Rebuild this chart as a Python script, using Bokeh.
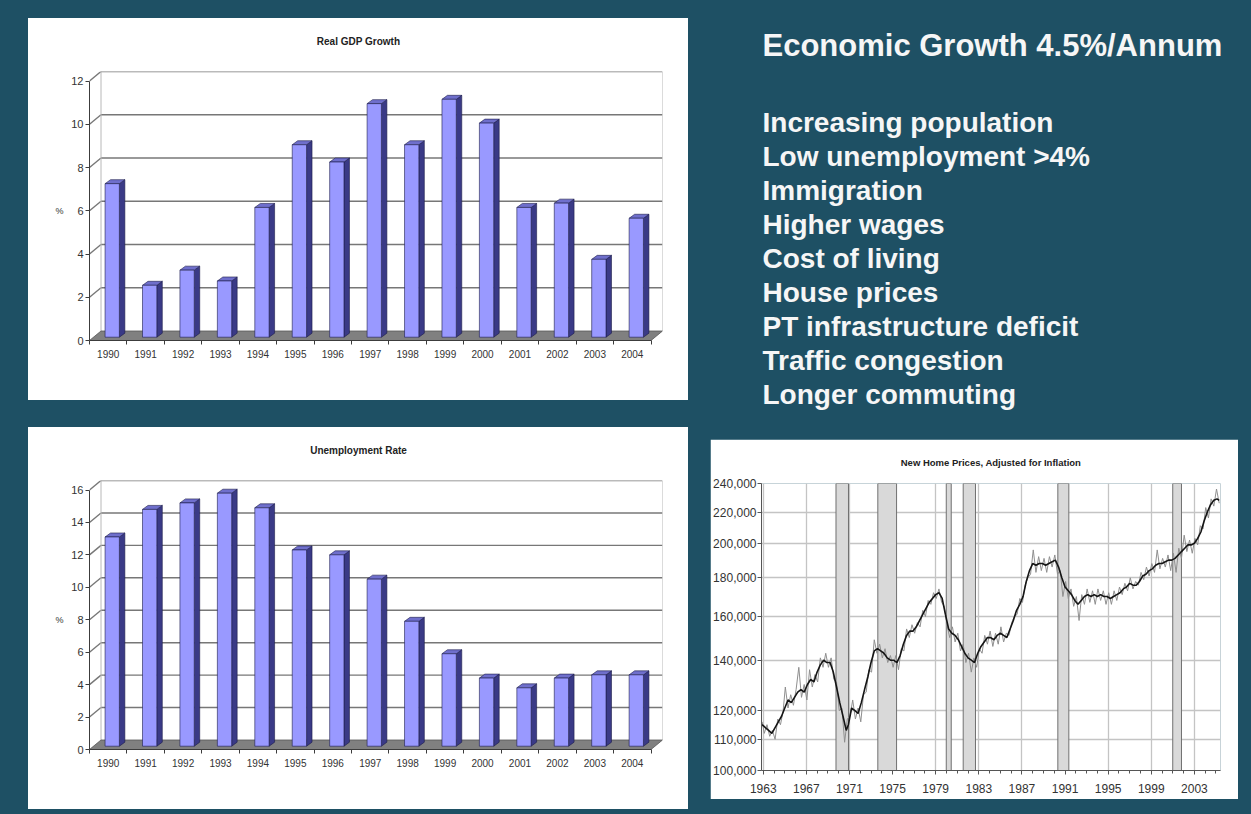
from bokeh.plotting import figure
from bokeh.models import Range1d, FixedTicker, NumeralTickFormatter, LinearAxis, Label
from bokeh.layouts import row, column
from bokeh.embed import file_html
from bokeh.resources import INLINE
from bokeh.core.properties import value

BG = "#1e5064"
FONT = "Liberation Sans"

# ---------------- data ----------------
years = ["1990", "1991", "1992", "1993", "1994", "1995", "1996", "1997",
         "1998", "1999", "2000", "2001", "2002", "2003", "2004"]
gdp_growth = [7.1, 2.4, 3.1, 2.6, 6.0, 8.9, 8.1, 10.8, 8.9, 11.0, 9.9, 6.0, 6.2, 3.6, 5.5]
unemployment = [12.9, 14.6, 15.0, 15.6, 14.7, 12.1, 11.8, 10.3, 7.7, 5.7, 4.2, 3.6, 4.2, 4.4, 4.4]
gdp_ticks = [0, 2, 4, 6, 8, 10, 12]
unemp_ticks = [0, 2, 4, 6, 8, 10, 12, 14, 16]

headline = "Economic Growth 4.5%/Annum"
points = ["Increasing population", "Low unemployment  >4%", "Immigration",
          "Higher wages", "Cost of living", "House prices",
          "PT infrastructure deficit", "Traffic congestion", "Longer commuting"]

# New home prices (inflation adjusted), smoothed series
price_years = [
    1962.9, 1963.2, 1963.5, 1963.8, 1964.1, 1964.4, 1964.7, 1965.0, 1965.3, 1965.6, 1965.9,
    1966.2, 1966.5, 1966.8, 1967.1, 1967.4, 1967.7, 1968.0, 1968.3, 1968.6, 1968.9,
    1969.2, 1969.5, 1969.8, 1970.1, 1970.4, 1970.7, 1970.9, 1971.2, 1971.5, 1971.8,
    1972.1, 1972.4, 1972.7, 1973.0, 1973.3, 1973.6, 1973.9, 1974.2, 1974.5, 1974.8,
    1975.1, 1975.4, 1975.7, 1976.0, 1976.3, 1976.6, 1976.9, 1977.2, 1977.5, 1977.8,
    1978.1, 1978.4, 1978.7, 1979.0, 1979.3, 1979.6, 1979.9, 1980.2, 1980.5, 1980.8,
    1981.1, 1981.4, 1981.7, 1982.0, 1982.3, 1982.6, 1982.9, 1983.2, 1983.5, 1983.8,
    1984.1, 1984.4, 1984.7, 1985.0, 1985.3, 1985.6, 1985.9, 1986.2, 1986.5, 1986.8,
    1987.1, 1987.4, 1987.7, 1988.0, 1988.3, 1988.6, 1988.9, 1989.2, 1989.5, 1989.8,
    1990.1, 1990.4, 1990.7, 1991.0, 1991.3, 1991.6, 1991.9, 1992.2, 1992.5, 1992.8,
    1993.1, 1993.4, 1993.7, 1994.0, 1994.3, 1994.6, 1994.9, 1995.2, 1995.5, 1995.8,
    1996.1, 1996.4, 1996.7, 1997.0, 1997.3, 1997.6, 1997.9, 1998.2, 1998.5, 1998.8,
    1999.1, 1999.4, 1999.7, 2000.0, 2000.3, 2000.6, 2000.9, 2001.2, 2001.5, 2001.8,
    2002.1, 2002.4, 2002.7, 2003.0, 2003.3, 2003.6, 2003.9, 2004.2, 2004.5, 2004.8,
    2005.1, 2005.3]
price_smooth = [
    115000, 114000, 113000, 112000, 114000, 116000, 118000, 121000, 124000, 123000, 125000,
    127000, 128000, 127000, 130000, 132000, 131000, 135000, 138000, 140000, 139000,
    139000, 135000, 129000, 123000, 118000, 113000, 115000, 121000, 120000, 119000,
    123000, 128000, 133000, 139000, 144000, 145000, 144000, 143000, 141000, 140000,
    140000, 139000, 142000, 147000, 151000, 153000, 153000, 155000, 158000, 161000,
    164000, 167000, 169000, 171000, 172000, 169000, 161000, 154000, 152000, 151000,
    149000, 146000, 143000, 141000, 140000, 139000, 143000, 146000, 148000, 150000,
    150000, 149000, 151000, 152000, 151000, 150000, 154000, 158000, 163000, 166000,
    170000, 178000, 184000, 188000, 187000, 188000, 188000, 187000, 188000, 189000,
    190000, 186000, 180000, 175000, 173000, 171000, 168000, 166000, 168000, 170000,
    171000, 170000, 171000, 170000, 171000, 170000, 170000, 169000, 170000, 171000,
    172000, 174000, 175000, 177000, 176000, 176000, 178000, 181000, 182000, 184000,
    185000, 187000, 188000, 188000, 189000, 190000, 190000, 191000, 193000, 195000,
    197000, 199000, 199000, 200000, 203000, 207000, 214000, 220000, 225000, 228000,
    229000, 228000]

# New home prices, raw (noisy) series
raw_years = [
    1962.9, 1963.1, 1963.35, 1963.6, 1963.85, 1964.1, 1964.35, 1964.6, 1964.85,
    1965.05, 1965.3, 1965.55, 1965.8, 1966.05, 1966.3, 1966.55, 1966.8,
    1967.05, 1967.3, 1967.55, 1967.8, 1968.05, 1968.3, 1968.55, 1968.8,
    1969.05, 1969.3, 1969.55, 1969.8, 1970.05, 1970.3, 1970.55, 1970.8,
    1971.05, 1971.3, 1971.55, 1971.8, 1972.05, 1972.3, 1972.55, 1972.8,
    1973.05, 1973.3, 1973.55, 1973.8, 1974.05, 1974.3, 1974.55, 1974.8,
    1975.05, 1975.3, 1975.55, 1975.8, 1976.05, 1976.3, 1976.55, 1976.8,
    1977.05, 1977.3, 1977.55, 1977.8, 1978.05, 1978.3, 1978.55, 1978.8,
    1979.05, 1979.3, 1979.55, 1979.8, 1980.05, 1980.3, 1980.55, 1980.8,
    1981.05, 1981.3, 1981.55, 1981.8, 1982.05, 1982.3, 1982.55, 1982.8,
    1983.05, 1983.3, 1983.55, 1983.8, 1984.05, 1984.3, 1984.55, 1984.8,
    1985.05, 1985.3, 1985.55, 1985.8, 1986.05, 1986.3, 1986.55, 1986.8,
    1987.05, 1987.3, 1987.55, 1987.8, 1988.05, 1988.3, 1988.55, 1988.8,
    1989.05, 1989.3, 1989.55, 1989.8, 1990.05, 1990.3, 1990.55, 1990.8,
    1991.05, 1991.3, 1991.55, 1991.8, 1992.05, 1992.3, 1992.55, 1992.8,
    1993.05, 1993.3, 1993.55, 1993.8, 1994.05, 1994.3, 1994.55, 1994.8,
    1995.05, 1995.3, 1995.55, 1995.8, 1996.05, 1996.3, 1996.55, 1996.8,
    1997.05, 1997.3, 1997.55, 1997.8, 1998.05, 1998.3, 1998.55, 1998.8,
    1999.05, 1999.3, 1999.55, 1999.8, 2000.05, 2000.3, 2000.55, 2000.8,
    2001.05, 2001.3, 2001.55, 2001.8, 2002.05, 2002.3, 2002.55, 2002.8,
    2003.05, 2003.3, 2003.55, 2003.8, 2004.05, 2004.3, 2004.55, 2004.8,
    2005.05, 2005.3]
price_raw = [
    116000, 112000, 115000, 111000, 113000, 110000, 117000, 115000, 120000,
    129000, 121000, 126000, 122000, 128000, 137000, 125000, 130000,
    124000, 136000, 129000, 134000, 131000, 141000, 137000, 143000,
    137000, 141000, 132000, 131000, 120000, 121000, 109000, 117000,
    118000, 124000, 117000, 121000, 116000, 126000, 127000, 136000,
    135000, 149000, 143000, 147000, 141000, 145000, 139000, 142000,
    137000, 142000, 136000, 145000, 144000, 154000, 150000, 156000,
    152000, 157000, 155000, 163000, 160000, 168000, 166000, 172000,
    169000, 174000, 167000, 165000, 156000, 150000, 155000, 148000,
    152000, 144000, 147000, 139000, 143000, 135000, 141000, 137000,
    145000, 143000, 151000, 147000, 153000, 146000, 152000, 147000,
    155000, 148000, 152000, 151000, 157000, 160000, 161000, 169000,
    167000, 176000, 180000, 182000, 196000, 183000, 192000, 184000,
    191000, 183000, 192000, 186000, 193000, 182000, 184000, 170000,
    178000, 169000, 174000, 165000, 170000, 158000, 171000, 166000,
    174000, 167000, 173000, 166000, 174000, 168000, 173000, 166000,
    172000, 166000, 173000, 168000, 175000, 171000, 177000, 173000,
    180000, 174000, 178000, 176000, 183000, 179000, 186000, 181000,
    188000, 183000, 196000, 185000, 191000, 186000, 193000, 184000,
    194000, 183000, 197000, 191000, 205000, 195000, 202000, 194000,
    203000, 199000, 211000, 209000, 223000, 216000, 229000, 224000,
    236000, 226000]

recession_start = [1969.75, 1973.63, 1979.98, 1981.55, 1990.33, 2000.99]
recession_end = [1970.91, 1975.37, 1980.44, 1982.69, 1991.35, 2001.80]
price_ticks = [100000, 110000, 120000, 140000, 160000, 180000, 200000, 220000, 240000]
year_ticks = [1963, 1967, 1971, 1975, 1979, 1983, 1987, 1991, 1995, 1999, 2003]
year_minor = list(range(1963, 2006))


def no_outline(fig):
    fig.outline_line_color = None
    fig.outline_line_alpha = 0
    fig.outline_line_width = 0


# ---------------- 3-D style column chart (title strip + chart) ----------------
def bar3d(title, cats, vals, yticks, margin):
    W = 660
    TSH = 36                      # title strip height
    H = 382 - TSH
    BL, BR, BT, BB = 61, 26, 17, 60
    fw = W - BL - BR
    fh = H - BT - BB
    DXP, DYP = 11.5, 9.5          # wall depth (px)
    n = len(cats)
    ymax = yticks[-1]
    cpx = (fw - DXP) / n
    upx = (fh - DYP) / ymax
    ddx, ddy = DXP / cpx, DYP / upx

    # title strip
    ts = figure(width=W, height=TSH, x_range=Range1d(0, W), y_range=Range1d(TSH, 0),
                x_axis_type=None, y_axis_type=None, output_backend="svg", title=None,
                toolbar_location=None, tools="", min_border=0,
                background_fill_color="white", border_fill_color="white",
                frame_align=False)
    no_outline(ts)
    ts.grid.visible = False
    ts.add_layout(Label(x=W / 2, y=23, text=title, text_align="center",
                        text_baseline="middle", text_font=FONT, text_font_size="10px",
                        text_font_style="bold", text_color="#222222"))

    p = figure(width=W, height=H, x_range=Range1d(0, n + ddx),
               y_range=Range1d(0, ymax + ddy), output_backend="svg",
               toolbar_location=None, tools="",
               min_border_left=BL, min_border_right=BR,
               min_border_top=BT, min_border_bottom=BB,
               background_fill_color="white", border_fill_color="white",
               frame_align=False)
    no_outline(p)
    p.grid.visible = False

    levels = yticks[1:]
    # left wall diagonals and back wall gridlines
    p.segment(x0=[0] * len(levels), y0=levels, x1=[ddx] * len(levels),
              y1=[t + ddy for t in levels], line_color="#777777", line_width=1.4)
    p.segment(x0=[ddx] * len(levels), y0=[t + ddy for t in levels],
              x1=[n + ddx] * len(levels), y1=[t + ddy for t in levels],
              line_color="#777777", line_width=1.4)
    # wall edges
    p.segment(x0=[ddx, n + ddx], y0=[ddy, ddy], x1=[ddx, n + ddx],
              y1=[ymax + ddy, ymax + ddy], line_color="#b8b8b8", line_width=1)
    # floor
    p.patch([0, n, n + ddx, ddx], [0, 0, ddy, ddy], fill_color="#808080",
            line_color="#555555", line_width=0.8)

    # bars
    BDX, BDY, BW, SDX, SDY = 4.0, 3.3, 14.3, 5.5, 4.0
    bdx, bdy, bw, sdx, sdy = BDX / cpx, BDY / upx, BW / cpx, SDX / cpx, SDY / upx
    lefts = [i + 0.5 - bw / 2 + bdx for i in range(n)]
    rights = [l + bw for l in lefts]
    tops = [v + bdy for v in vals]
    side_xs = [[r, r + sdx, r + sdx, r] for r in rights]
    side_ys = [[bdy, bdy + sdy, t + sdy, t] for t in tops]
    top_xs = [[l, r, r + sdx, l + sdx] for l, r in zip(lefts, rights)]
    top_ys = [[t, t, t + sdy, t + sdy] for t in tops]
    edge = "#1d1d4a"
    p.patches(side_xs, side_ys, fill_color="#3a3a86", line_color=edge, line_width=0.6)
    p.patches(top_xs, top_ys, fill_color="#6f6fcc", line_color=edge, line_width=0.6)
    p.quad(left=lefts, right=rights, bottom=bdy, top=tops, fill_color="#9999ff",
           line_color=edge, line_width=0.6)

    # axes
    p.xaxis.ticker = FixedTicker(ticks=[i + 0.5 for i in range(n)],
                                 minor_ticks=list(range(n + 1)))
    p.xaxis.major_label_overrides = {i + 0.5: c for i, c in enumerate(cats)}
    p.xaxis.bounds = (0, n)
    p.xaxis.major_tick_out = 0
    p.xaxis.major_tick_in = 0
    p.xaxis.minor_tick_out = 4
    p.xaxis.minor_tick_in = 0
    p.xaxis.major_label_standoff = 5
    p.yaxis.ticker = FixedTicker(ticks=yticks)
    p.yaxis.bounds = (0, ymax)
    p.yaxis.major_tick_out = 4
    p.yaxis.major_tick_in = 0
    p.yaxis.minor_tick_line_color = None
    p.yaxis.major_label_standoff = 2
    for ax in (p.xaxis, p.yaxis):
        ax.axis_line_color = "#3c3c3c"
        ax.major_tick_line_color = "#3c3c3c"
        ax.major_label_text_font = FONT
        ax.major_label_text_color = "#333333"
    p.xaxis.minor_tick_line_color = "#3c3c3c"
    p.xaxis.major_label_text_font_size = "10px"
    p.yaxis.major_label_text_font_size = "11px"

    # "%" unit marker beside the middle tick
    mid = yticks[len(yticks) // 2]
    unit_ax = LinearAxis(ticker=FixedTicker(ticks=[mid]),
                         major_label_overrides={mid: "%"},
                         axis_line_color=None, major_tick_line_color=None,
                         minor_tick_line_color=None, major_tick_out=0,
                         major_label_standoff=5, major_label_text_font=FONT,
                         major_label_text_font_size="9px",
                         major_label_text_color="#333333")
    p.add_layout(unit_ax, "left")
    return column(ts, p, margin=margin, styles={"background-color": "white"})


gdp = bar3d("Real GDP Growth", years, gdp_growth, gdp_ticks, (18, 0, 0, 28))
unemp = bar3d("Unemployment Rate", years, unemployment, unemp_ticks, (27, 0, 5, 28))

# ---------------- text panel ----------------
TW, TH = 563, 430
tp = figure(width=TW, height=TH, x_range=Range1d(0, TW), y_range=Range1d(TH, 0),
            x_axis_type=None, y_axis_type=None, output_backend="svg", title=None,
            toolbar_location=None, tools="", min_border=0, background_fill_color=BG,
            border_fill_color=BG, frame_align=False)
no_outline(tp)
tp.grid.visible = False
tp.text(x=[74], y=[45], text=[headline], text_font=value(FONT), text_font_size="31px",
        text_font_style="bold", text_color="#f6f6f6", text_baseline="alphabetic")
tp.text(x=[74] * len(points), y=[122 + 34 * k for k in range(len(points))], text=points,
        text_font=value(FONT), text_font_size="28px", text_font_style="bold",
        text_color="#f6f6f6", text_baseline="alphabetic")

# ---------------- new home prices ----------------
hp = figure(width=528, height=360, x_range=Range1d(1962.84, 2005.42),
            y_range=Range1d(100000, 240000), y_axis_type="log", output_backend="svg",
            toolbar_location=None, tools="", min_border_left=51, min_border_right=18,
            min_border_top=43, min_border_bottom=29, background_fill_color="white",
            border_fill_color="white", margin=(9, 0, 0, 22), frame_align=False,
            styles={"outline": "1px solid #8a8a8a", "outline-offset": "-3px"})
no_outline(hp)
hp.quad(left=recession_start, right=recession_end, bottom=100000, top=240000,
        fill_color="#d9d9d9", line_color="#707070", line_width=1)
hp.line(raw_years, price_raw, line_color="#8f8f8f", line_width=1)
hp.line(price_years, price_smooth, line_color="#151515", line_width=1.6)

hp.xaxis.ticker = FixedTicker(ticks=year_ticks, minor_ticks=year_minor)
hp.xgrid.ticker = FixedTicker(ticks=year_ticks)
hp.yaxis.ticker = FixedTicker(ticks=price_ticks)
hp.ygrid.ticker = FixedTicker(ticks=price_ticks)
hp.yaxis.formatter = NumeralTickFormatter(format="0,0")
hp.grid.grid_line_color = "#c4c4c4"
hp.grid.grid_line_width = 1.3
hp.yaxis.minor_tick_line_color = None
for ax in (hp.xaxis, hp.yaxis):
    ax.axis_line_color = "#555555"
    ax.major_tick_line_color = "#555555"
    ax.major_tick_out = 4
    ax.major_tick_in = 0
    ax.major_label_text_font = FONT
    ax.major_label_text_font_size = "12px"
    ax.major_label_text_color = "#333333"
hp.yaxis.major_label_standoff = 1
hp.xaxis.minor_tick_line_color = "#555555"
hp.xaxis.minor_tick_out = 3
hp.xaxis.minor_tick_in = 0
hp.xaxis.major_label_standoff = 9
hp.title.text = "New Home Prices, Adjusted for Inflation"
hp.title.align = "center"
hp.title.text_font = FONT
hp.title.text_font_size = "9.5px"
hp.title.text_font_style = "bold"
hp.title.text_color = "#222222"
hp.title.standoff = 31

left_col = column(gdp, unemp, styles={"background-color": BG})
right_col = column(tp, hp, styles={"background-color": BG})
p = row(left_col, right_col, styles={"background-color": BG})

open("out.html", "w").write(file_html(p, INLINE))
